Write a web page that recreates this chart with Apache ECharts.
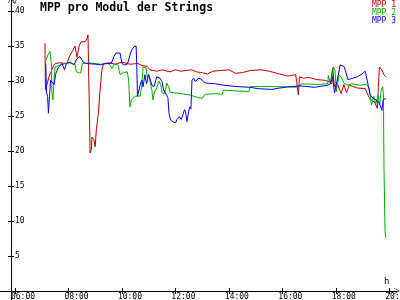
<!DOCTYPE html>
<html><head><meta charset="utf-8">
<script src="https://cdn.jsdelivr.net/npm/echarts@6/dist/echarts.min.js"></script>
<style>html,body{margin:0;padding:0;background:#fff}#c{width:400px;height:300px}</style>
</head><body><div id="c"></div>
<script>
const titleText = 'MPP pro Modul der Strings';
const seriesNames = ['MPP 1', 'MPP 2', 'MPP 3'];
const xTickHours = [6, 8, 10, 12, 14, 16, 18, 20];
const yTickValues = [5, 10, 15, 20, 25, 30, 35, 40];

// [hour of day, volts]
const mpp1 = [[7.12,35.4],[7.14,28.7],[7.20,28.8],[7.27,30.6],[7.35,31.3],[7.42,32.0],[7.50,32.5],[7.68,32.6],[7.94,32.5],[8.06,33.7],[8.17,34.4],[8.24,35.0],[8.32,33.4],[8.40,35.0],[8.47,35.6],[8.62,35.6],[8.70,36.1],[8.73,36.6],[8.79,36.6],[8.81,19.7],[8.86,20.3],[8.88,22.0],[8.95,21.6],[9.00,20.6],[9.04,23.0],[9.12,25.4],[9.18,28.7],[9.25,31.6],[9.31,32.5],[9.55,32.6],[9.74,32.4],[10.0,32.7],[10.3,32.4],[10.6,32.5],[10.75,32.2],[10.94,32.1],[11.05,31.6],[11.3,31.4],[11.5,31.6],[11.8,31.3],[12.0,31.6],[12.2,31.4],[12.4,31.5],[12.6,31.6],[12.8,31.3],[13.0,31.2],[13.2,31.0],[13.4,31.4],[13.7,31.5],[14.0,31.6],[14.25,31.1],[14.5,31.2],[14.8,31.5],[15.2,31.6],[15.5,31.4],[15.9,31.0],[16.2,30.7],[16.5,30.9],[16.6,28.0],[16.64,30.6],[16.8,30.4],[17.0,30.5],[17.3,30.2],[17.6,30.1],[17.8,29.8],[17.88,31.8],[17.95,29.2],[18.05,29.7],[18.2,28.2],[18.3,29.5],[18.4,28.3],[18.5,29.4],[18.8,29.0],[19.1,28.9],[19.2,28.0],[19.3,27.3],[19.45,27.0],[19.55,26.1],[19.6,26.3],[19.63,32.0],[19.72,31.6],[19.8,30.9],[19.87,30.6]];
const mpp2 = [[7.16,33.0],[7.23,33.7],[7.31,34.2],[7.36,32.5],[7.38,28.5],[7.42,27.3],[7.46,30.1],[7.50,32.0],[7.7,32.3],[8.0,32.6],[8.24,32.4],[8.30,31.3],[8.45,31.1],[8.52,32.5],[8.8,32.6],[9.2,32.4],[9.5,32.5],[9.63,31.8],[9.7,32.4],[9.85,32.3],[9.93,30.9],[10.05,31.2],[10.2,31.3],[10.25,30.1],[10.30,26.3],[10.35,27.3],[10.49,27.8],[10.6,27.9],[10.68,27.8],[10.75,29.7],[10.79,32.0],[10.9,31.9],[10.95,30.5],[11.0,31.0],[11.05,30.0],[11.12,28.7],[11.16,27.3],[11.22,28.4],[11.3,29.0],[11.38,30.0],[11.45,29.5],[11.5,28.3],[11.6,28.2],[11.68,29.7],[11.75,29.2],[11.8,28.4],[12.2,28.2],[12.55,28.0],[12.7,27.8],[13.0,27.5],[13.1,28.1],[13.5,28.2],[13.75,28.1],[13.8,28.7],[14.2,28.6],[14.75,28.5],[14.8,29.2],[15.2,29.2],[15.8,29.2],[16.6,29.1],[16.7,29.6],[17.3,29.5],[17.7,29.6],[17.72,30.8],[17.78,29.8],[17.86,29.6],[17.9,32.0],[17.97,31.5],[18.02,28.5],[18.06,29.5],[18.12,30.8],[18.2,30.6],[18.3,29.7],[18.45,29.4],[18.6,29.6],[18.9,29.4],[19.15,29.5],[19.25,29.0],[19.33,26.6],[19.42,27.8],[19.5,26.8],[19.58,27.9],[19.64,26.6],[19.69,28.5],[19.75,29.2],[19.78,28.2],[19.80,18.0],[19.84,8.5],[19.87,7.6]];
const mpp3 = [[7.15,32.5],[7.18,28.3],[7.22,27.8],[7.25,25.4],[7.29,27.8],[7.33,30.1],[7.40,30.3],[7.46,29.5],[7.53,31.1],[7.62,31.9],[7.76,32.5],[7.85,31.6],[7.92,32.5],[8.08,32.7],[8.2,32.3],[8.32,33.2],[8.43,33.5],[8.55,32.7],[8.65,32.5],[9.0,32.4],[9.2,32.3],[9.4,32.5],[9.6,32.5],[9.65,33.0],[9.7,33.5],[9.78,34.0],[9.85,34.2],[9.93,34.0],[10.0,32.5],[10.1,32.3],[10.2,32.4],[10.25,33.0],[10.32,34.0],[10.38,34.5],[10.45,34.9],[10.53,35.0],[10.56,31.6],[10.58,27.8],[10.62,28.0],[10.68,29.4],[10.74,30.1],[10.79,29.2],[10.86,30.9],[10.92,29.6],[11.0,30.9],[11.12,29.4],[11.2,29.2],[11.3,30.6],[11.42,30.4],[11.5,29.9],[11.56,28.7],[11.67,28.0],[11.72,27.6],[11.76,25.4],[11.82,24.4],[11.9,24.2],[12.0,24.0],[12.06,24.5],[12.15,24.9],[12.22,24.5],[12.28,25.2],[12.34,25.9],[12.38,25.6],[12.43,24.2],[12.5,24.2],[12.53,26.3],[12.58,26.0],[12.62,30.1],[12.68,30.4],[12.75,29.9],[12.85,30.4],[12.95,30.3],[13.05,29.9],[13.15,29.7],[13.5,29.6],[13.8,29.4],[14.3,29.2],[14.8,29.1],[15.1,28.9],[15.6,28.8],[15.9,29.0],[16.3,29.2],[16.7,29.3],[17.2,29.1],[17.7,29.4],[17.8,29.6],[17.88,30.6],[17.95,28.3],[18.03,29.7],[18.1,31.0],[18.16,32.3],[18.3,32.1],[18.36,31.5],[18.45,30.2],[18.55,30.3],[18.8,30.6],[18.98,31.0],[19.1,31.4],[19.17,31.3],[19.21,29.4],[19.28,28.0],[19.4,27.5],[19.5,27.3],[19.6,27.0],[19.66,26.5],[19.72,25.8],[19.77,27.3],[19.87,27.5]];

const colors = ['#c00000', '#00b000', '#0000ff'];
const mono = 'DejaVu Sans Mono';
const arrow = 'path://M0,10 L5,0 L10,10 L9,10 L5,2 L1,10 Z';
const fmtHour = v => (v < 10 ? '0' : '') + v + ':00';

const chart = echarts.init(document.getElementById('c'), null, {renderer: 'canvas'});
const xBase = {type: 'value', min: 5.439, max: 20.288, splitLine: {show: false}, position: 'bottom', offset: -9};
const yBase = {type: 'value', min: -1.286, max: 41.571, splitLine: {show: false}, position: 'left', offset: -11};
chart.setOption({
  animation: false,
  backgroundColor: '#fff',
  title: {text: titleText, left: 40, top: 2, padding: 0,
    textStyle: {fontFamily: mono, fontWeight: 'bold', fontSize: 11.5, color: '#000'}},
  legend: {orient: 'vertical', right: 4, top: 1, padding: 0, itemGap: 0, itemWidth: 0, itemHeight: 8,
    icon: 'none', selectedMode: false,
    textStyle: {fontFamily: mono, fontSize: 8, lineHeight: 8, padding: 0},
    data: seriesNames.map((n, i) => ({name: n, textStyle: {color: colors[i]}}))},
  grid: {left: 0, right: 3, top: 0, bottom: 0, containLabel: false, outerBoundsMode: 'none'},
  xAxis: [
    Object.assign({}, xBase, {
      axisLine: {show: true, onZero: false, symbol: ['none', arrow], symbolSize: [6, 8], lineStyle: {color: '#000', width: 1}},
      axisTick: {show: true, length: 3, customValues: xTickHours, lineStyle: {color: '#000'}},
      axisLabel: {show: true, customValues: xTickHours, formatter: fmtHour, margin: 2, padding: [0, 0, 0, 16],
        fontFamily: mono, fontSize: 8, lineHeight: 8, color: '#000'}
    }),
    Object.assign({}, xBase, {
      axisLine: {show: false, onZero: false},
      axisTick: {show: true, inside: true, length: 3, customValues: xTickHours, lineStyle: {color: '#000'}},
      axisLabel: {show: false}
    })
  ],
  yAxis: [
    Object.assign({}, yBase, {
      axisLine: {show: true, onZero: false, symbol: ['none', arrow], symbolSize: [6, 8], lineStyle: {color: '#000', width: 1}},
      axisTick: {show: true, length: 3, customValues: yTickValues, lineStyle: {color: '#000'}},
      axisLabel: {show: true, inside: true, customValues: yTickValues, margin: 4,
        fontFamily: mono, fontSize: 8, lineHeight: 8, color: '#000'}
    }),
    Object.assign({}, yBase, {
      axisLine: {show: false, onZero: false},
      axisTick: {show: true, inside: true, length: 3, customValues: yTickValues, lineStyle: {color: '#000'}},
      axisLabel: {show: false}
    })
  ],
  graphic: [
    {type: 'text', left: 384, top: 277, style: {text: 'h', font: '9px "DejaVu Sans Mono"', fill: '#000'}},
    {type: 'text', left: 13, top: -1, style: {text: 'V', font: '6px "DejaVu Sans Mono"', fill: '#000'}}
  ],
  series: [mpp1, mpp2, mpp3].map((d, i) => ({
    name: seriesNames[i], type: 'line', data: d, xAxisIndex: 0, yAxisIndex: 0,
    showSymbol: false, symbol: 'none', silent: true,
    lineStyle: {color: colors[i], width: 1}, itemStyle: {color: colors[i]}
  }))
});
</script></body></html>
